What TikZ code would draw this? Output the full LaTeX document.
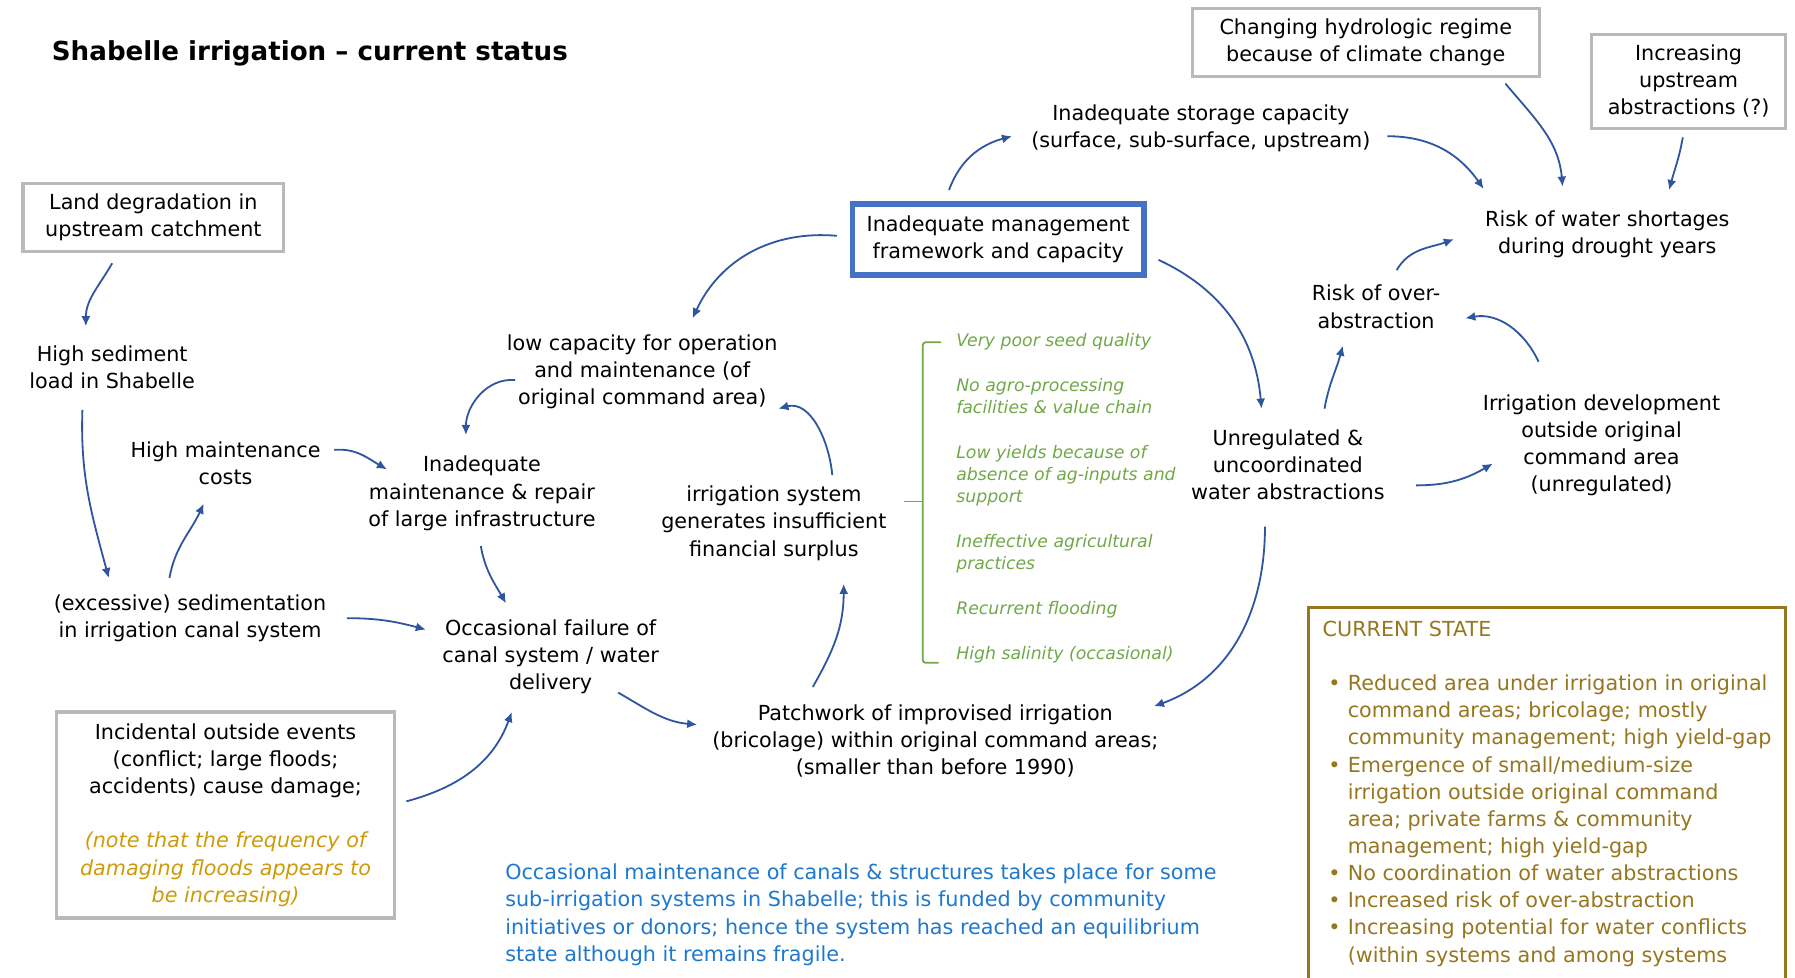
\documentclass[tikz,border=0pt]{standalone}
\usepackage{fontspec}
\setmainfont{DejaVu Sans}
\usetikzlibrary{arrows.meta}

\definecolor{arrowblue}{RGB}{47,85,160}
\definecolor{boxgrey}{RGB}{185,185,185}
\definecolor{mgmtblue}{RGB}{68,114,196}
\definecolor{factorgreen}{RGB}{112,168,72}
\definecolor{floodgold}{RGB}{205,155,10}
\definecolor{stategold}{RGB}{150,118,30}
\definecolor{noteblue}{RGB}{30,120,205}

\newcommand{\stbul}{\makebox[0.44cm][l]{\hspace{0.1cm}\textbullet}}
\newcommand{\stind}{\hspace*{0.44cm}}
\newcommand{\floodnote}[1]{\textcolor{floodgold}{\itshape #1}}

\tikzset{
  txt/.style={align=center, inner sep=1pt, font=\fontsize{10.3}{13.5}\selectfont},
  greybox/.style={txt, draw=boxgrey, line width=1.6pt},
  arr/.style={draw=arrowblue, line width=0.9pt, -{Latex[length=5pt,width=4.5pt]}},
}

\begin{document}
\begin{tikzpicture}[x=0.02cm,y=0.02cm]
        \useasboundingbox (0,0) rectangle (1568,-854);
        \clip (0,0) rectangle (1568,-854);
        \node[anchor=west, inner sep=0pt, font=\fontsize{13}{16}\selectfont\bfseries] (title) at (45,-47) {Shabelle irrigation -- current status};

        % boxes
        \node[greybox, minimum width=4.56cm, minimum height=1.2cm] (land) at (134,-190) {Land degradation in\\upstream catchment};
        \node[greybox, minimum width=6.06cm, minimum height=1.18cm] (climate) at (1193,-37) {Changing hydrologic regime\\because of climate change};
        \node[greybox, minimum width=3.4cm, minimum height=1.64cm] (upstream) at (1475,-71) {Increasing\\upstream\\abstractions (?)};
        \node[greybox, minimum width=5.9cm, minimum height=3.6cm] (incident) at (197,-712) {Incidental outside events\\(conflict; large floods;\\accidents) cause damage;\\[13.5pt]
            \floodnote{(note that the frequency of}\\\floodnote{damaging floods appears to}\\\floodnote{be increasing)}};
        \node[txt, draw=mgmtblue, line width=2.8pt, minimum width=5.1cm, minimum height=1.24cm] (mgmt) at (872,-209) {Inadequate management\\framework and capacity};

        % left loop
        \node[txt] (sediment) at (98,-321) {High sediment\\load in Shabelle};
        \node[txt] (maintcost) at (197,-405) {High maintenance\\costs};
        \node[txt] (inadmaint) at (421,-431) {Inadequate\\maintenance \& repair\\of large infrastructure};
        \node[txt] (excsed) at (166,-540) {(excessive) sedimentation\\in irrigation canal system};
        \node[txt] (failure) at (481,-574) {Occasional failure of\\canal system / water\\delivery};
        \node[txt] (lowcap) at (561,-325) {low capacity for operation\\and maintenance (of\\original command area)};
        \node[txt] (irrsys) at (676,-457) {irrigation system\\generates insufficient\\financial surplus};
        \node[txt] (patch) at (817,-647) {Patchwork of improvised irrigation\\(bricolage) within original command areas;\\(smaller than before 1990)};

        % right side
        \node[txt] (storage) at (1049,-112) {Inadequate storage capacity\\(surface, sub-surface, upstream)};
        \node[txt] (shortage) at (1404,-205) {Risk of water shortages\\during drought years};
        \node[txt] (overabs) at (1202,-268) {Risk of over-\\abstraction};
        \node[txt] (unreg) at (1125,-406) {Unregulated \&\\uncoordinated\\water abstractions};
        \node[txt] (irrdev) at (1399,-389) {Irrigation development\\outside original\\command area\\(unregulated)};

        % green factors
        \node[anchor=north west, align=left, inner sep=0pt, text=factorgreen, font=\fontsize{8.6}{11.1}\selectfont\itshape] (factors) at (835,-291) {Very poor seed quality\\[11.1pt]
            No agro-processing\\facilities \& value chain\\[11.1pt]
            Low yields because of\\absence of ag-inputs and\\support\\[11.1pt]
            Ineffective agricultural\\practices\\[11.1pt]
            Recurrent flooding\\[11.1pt]
            High salinity (occasional)};
        \draw[factorgreen, line width=0.9pt, rounded corners=1.5pt] (822,-299) -| (806,-579) -- (820,-579);
        \draw[factorgreen, line width=0.9pt] (790,-438) -- (806,-438);

        % notes
        \node[anchor=north west, align=left, inner sep=0pt, text=noteblue, font=\fontsize{10.3}{13.6}\selectfont] (note) at (441,-754) {Occasional maintenance of canals \& structures takes place for some\\sub-irrigation systems in Shabelle; this is funded by community\\initiatives or donors; hence the system has reached an equilibrium\\state although it remains fragile.};
        \draw[stategold, line width=1.4pt] (1143,-531) rectangle (1560,-880);
        \node[anchor=north west, align=left, inner sep=0pt, text=stategold, font=\fontsize{10.3}{13.5}\selectfont] (state) at (1155,-542) {CURRENT STATE\\[13.5pt]
            \stbul Reduced area under irrigation in original\\
            \stind command areas; bricolage; mostly\\
            \stind community management; high yield-gap\\
            \stbul Emergence of small/medium-size\\
            \stind irrigation outside original command\\
            \stind area; private farms \& community\\
            \stind management; high yield-gap\\
            \stbul No coordination of water abstractions\\
            \stbul Increased risk of over-abstraction\\
            \stbul Increasing potential for water conflicts\\
            \stind (within systems and among systems};

        % arrows
        \draw[arr] ([shift={(-36,-40)}]land.center) to[out=-120,in=90] ([shift={(-23,36)}]sediment.center);
        \draw[arr] ([shift={(-26,-37)}]sediment.center) to[out=-92,in=105] ([shift={(-71,35)}]excsed.center);
        \draw[arr] ([shift={(-18,35)}]excsed.center) to[out=80,in=-115] ([shift={(-19,-35)}]maintcost.center);
        \draw[arr] ([shift={(95,12)}]maintcost.center) to[out=5,in=150] ([shift={(-83,21)}]inadmaint.center);
        \draw[arr] ([shift={(-111,-7)}]lowcap.center) to[out=175,in=90] ([shift={(-14,51)}]inadmaint.center);
        \draw[arr] ([shift={(-1,-46)}]inadmaint.center) to[out=-80,in=120] ([shift={(-39,47)}]failure.center);
        \draw[arr] ([shift={(137,0)}]excsed.center) to[out=0,in=165] ([shift={(-109,24)}]failure.center);
        \draw[arr] ([shift={(158,12)}]incident.center) to[out=15,in=-110] ([shift={(-34,-48)}]failure.center);
        \draw[arr] ([shift={(59,-31)}]failure.center) to[out=-30,in=175] ([shift={(-208,14)}]patch.center);
        \draw[arr] ([shift={(-107,47)}]patch.center) to[out=60,in=-90] ([shift={(61,-53)}]irrsys.center);
        \draw[arr] ([shift={(51,42)}]irrsys.center) to[out=95,in=15] ([shift={(119,-32)}]lowcap.center);
        \draw[arr] ([shift={(-141,3)}]mgmt.center) to[out=175,in=65] ([shift={(44,47)}]lowcap.center);
        \draw[arr] ([shift={(-43,43)}]mgmt.center) to[out=70,in=195] ([shift={(-165,-7)}]storage.center);
        \draw[arr] ([shift={(140,-18)}]mgmt.center) to[out=-25,in=95] ([shift={(-23,49)}]unreg.center);
        \draw[arr] ([shift={(-20,-54)}]unreg.center) to[out=-90,in=20] ([shift={(191,30)}]patch.center);
        \draw[arr] ([shift={(32,49)}]unreg.center) to[out=80,in=-105] ([shift={(-29,-34)}]overabs.center);
        \draw[arr] ([shift={(112,-18)}]unreg.center) to[out=0,in=-150] ([shift={(-95,-16)}]irrdev.center);
        \draw[arr] ([shift={(-55,73)}]irrdev.center) to[out=115,in=10] ([shift={(78,-10)}]overabs.center);
        \draw[arr] ([shift={(18,32)}]overabs.center) to[out=60,in=-160] ([shift={(-134,-4)}]shortage.center);
        \draw[arr] ([shift={(163,-7)}]storage.center) to[out=0,in=125] ([shift={(-108,40)}]shortage.center);
        \draw[arr] ([shift={(122,-36)}]climate.center) to[out=-50,in=95] ([shift={(-39,42)}]shortage.center);
        \draw[arr] ([shift={(-5,-49)}]upstream.center) to[out=-100,in=75] ([shift={(54,39)}]shortage.center);
\end{tikzpicture}
\end{document}
